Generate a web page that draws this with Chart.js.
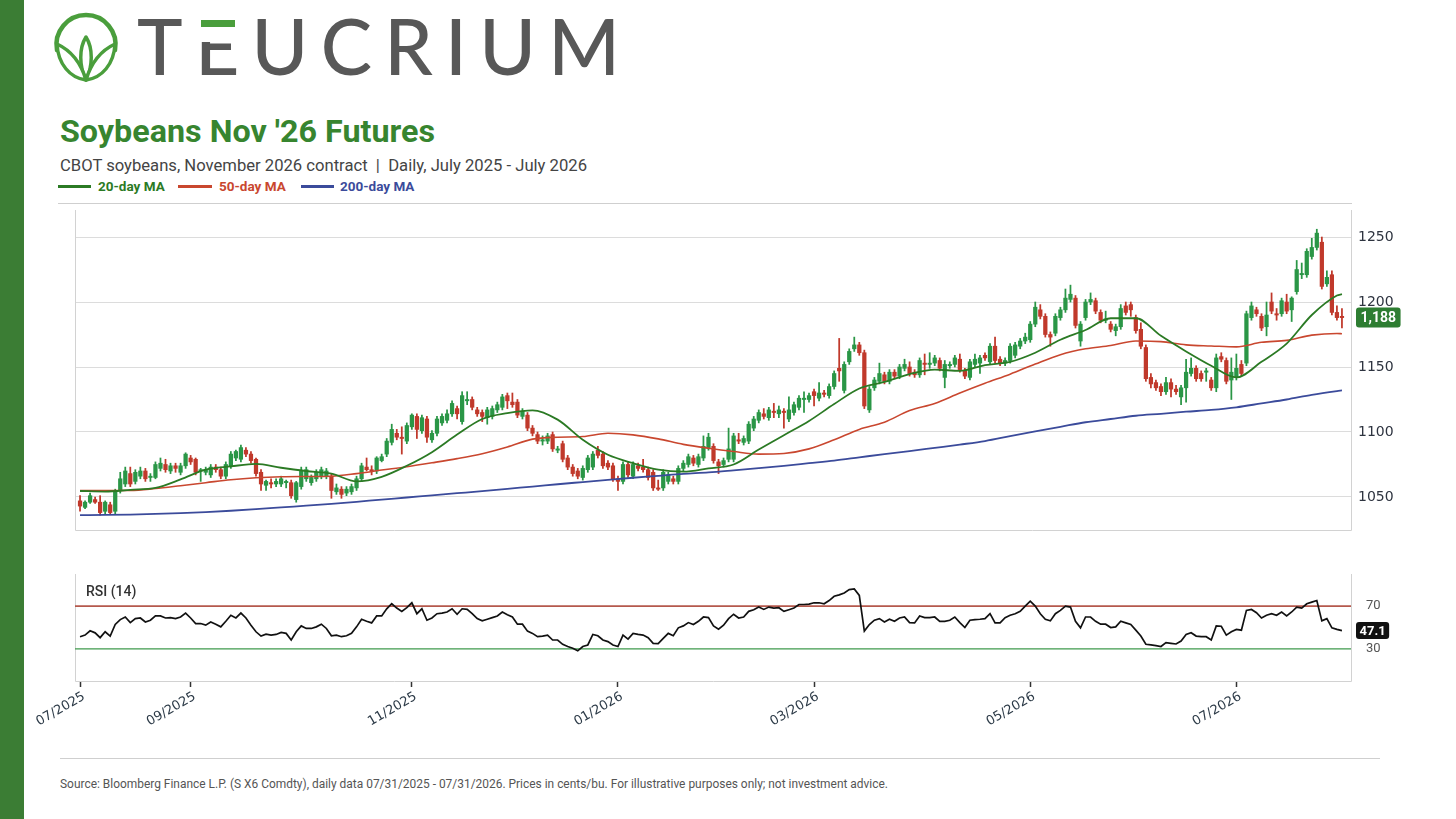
<!DOCTYPE html>
<html>
<head>
<meta charset="utf-8">
<script src="https://cdn.jsdelivr.net/npm/chart.js@4.4.1/dist/chart.umd.min.js"></script>
<style>
html,body{margin:0;padding:0;background:#fff;}
body{width:1456px;height:819px;position:relative;overflow:hidden;font-family:Roboto,"Noto Sans",sans-serif;}
#sidebar{position:absolute;left:0;top:0;width:24px;height:819px;background:#3b7d34;}
.abs{position:absolute;white-space:nowrap;line-height:1;}
#brand{left:137px;top:7px;font-family:Lato,sans-serif;font-size:77px;font-weight:500;color:#585858;}
#eCover{position:absolute;background:#fff;}
#eBar{position:absolute;background:#4a9e3c;}
#title{left:60px;top:116px;font-size:31px;font-weight:700;color:#37852f;transform-origin:0 0;}
#subtitle{left:60px;top:158px;font-size:16px;color:#444;transform-origin:0 0;}
.lgline{position:absolute;height:3px;top:185px;}
.lgtext{position:absolute;top:180px;font-size:13.5px;font-weight:700;line-height:1;white-space:nowrap;}
.hr{position:absolute;height:1px;background:#cfcfcf;}
#rsiLabel{left:86px;top:584px;font-size:14px;font-weight:500;color:#333;}
#source{left:60px;top:778px;font-size:12px;color:#555;transform-origin:0 0;}
canvas{position:absolute;left:0;}
</style>
</head>
<body>
<div id="sidebar"></div>
<svg width="140" height="95" style="position:absolute;left:0;top:0" viewBox="0 0 140 95">
  <path d="M 57 50 A 29.5 29.5 0 1 1 115 50" fill="none" stroke="#4a9e3c" stroke-width="4.5" stroke-linecap="round"/>
  <path d="M 86 37 C 79 48, 79 66, 86 80 C 93 66, 93 48, 86 37 Z" fill="#fff" stroke="#4a9e3c" stroke-width="3.5" stroke-linejoin="round"/>
  <path d="M 86 80 C 70 78, 58 64, 57 44 C 70 50, 80 60, 86 80 Z" fill="#fff" stroke="#4a9e3c" stroke-width="3.5" stroke-linejoin="round"/>
  <path d="M 86 80 C 102 78, 114 64, 115 44 C 102 50, 92 60, 86 80 Z" fill="#fff" stroke="#4a9e3c" stroke-width="3.5" stroke-linejoin="round"/>
</svg>
<div id="brand" class="abs">T<span id="brandE">E</span>UCRIUM</div>
<div id="eCover"></div>
<div id="eBar"></div>

<div id="title" class="abs">Soybeans Nov '26 Futures</div>
<div id="subtitle" class="abs">CBOT soybeans, November 2026 contract &nbsp;|&nbsp; Daily, July 2025 - July 2026</div>

<div class="lgline" style="left:58px;width:33px;background:#2b7a24"></div>
<div class="lgtext" style="left:98px;color:#2b7a24">20-day MA</div>
<div class="lgline" style="left:178px;width:34px;background:#c9472f"></div>
<div class="lgtext" style="left:219px;color:#c9472f">50-day MA</div>
<div class="lgline" style="left:301px;width:33px;background:#3b4b9b"></div>
<div class="lgtext" style="left:340px;color:#3b4b9b">200-day MA</div>

<div class="hr" style="left:58px;width:1294px;top:203px"></div>

<canvas id="priceChart" width="1456" height="340" style="top:200px"></canvas>
<canvas id="rsiChart" width="1456" height="180" style="top:565px"></canvas>
<div id="rsiLabel" class="abs">RSI (14)</div>

<div class="hr" style="left:60px;width:1320px;top:758px"></div>
<div id="source" class="abs">Source: Bloomberg Finance L.P. (S X6 Comdty), daily data 07/31/2025 - 07/31/2026. Prices in cents/bu. For illustrative purposes only; not investment advice.</div>

<script>
// ---------- DATA ----------
const tickIndex  = [0, 22, 66, 107, 146, 189, 230];
const tickLabels = ['07/2025','09/2025','11/2025','01/2026','03/2026','05/2026','07/2026'];
const priceTicks = [1050, 1100, 1150, 1200, 1250];
const rsiLevels  = [70, 30];

const openP = [
1047,1042,1046,1048,1046,1039,1044,1039,1055,1060,
1068,1062,1066,1070,1065,1065,1072,1075,1070,1074,
1069,1074,1080,1079,1070,1069,1067,1073,1071,1066,
1074,1080,1079,1086,1083,1079,1069,1059,1061,1060,
1060,1061,1061,1048,1058,1064,1061,1064,1066,1066,
1066,1054,1056,1053,1054,1057,1064,1073,1071,1070,
1078,1083,1092,1099,1096,1093,1104,1112,1101,1110,
1094,1099,1107,1109,1114,1118,1108,1124,1125,1117,
1115,1111,1112,1117,1119,1128,1123,1123,1112,1113,
1103,1098,1093,1093,1098,1086,1091,1080,1073,1070,
1065,1071,1073,1086,1083,1076,1074,1064,1062,1075,
1066,1074,1073,1071,1069,1057,1057,1062,1064,1062,
1072,1075,1080,1075,1080,1088,1089,1077,1075,1079,
1079,1094,1092,1093,1103,1109,1114,1111,1116,1114,
1116,1110,1115,1119,1125,1125,1131,1126,1130,1128,
1135,1149,1132,1154,1164,1167,1161,1117,1134,1139,
1144,1139,1146,1143,1149,1150,1146,1144,1153,1152,
1153,1155,1142,1151,1152,1156,1147,1142,1152,1153,
1159,1154,1166,1156,1153,1155,1159,1166,1170,1171,
1183,1194,1189,1175,1176,1188,1194,1202,1203,1170,
1188,1200,1201,1192,1186,1183,1178,1181,1197,1198,
1188,1179,1165,1142,1138,1135,1131,1138,1133,1127,
1134,1145,1149,1145,1146,1140,1134,1158,1155,1140,
1142,1152,1153,1188,1194,1189,1181,1200,1191,1191,
1200,1194,1208,1221,1221,1235,1242,1246,1214,1221,
1192,1189];
const highP = [
1051,1047,1053,1050,1051,1047,1046,1056,1069,1073,
1073,1071,1073,1072,1068,1077,1080,1079,1076,1076,
1076,1084,1082,1080,1072,1073,1075,1075,1073,1077,
1085,1086,1090,1088,1085,1080,1071,1063,1064,1064,
1066,1063,1063,1062,1073,1073,1067,1071,1073,1072,
1068,1060,1058,1058,1060,1066,1076,1080,1074,1081,
1083,1095,1106,1102,1104,1107,1114,1114,1113,1112,
1101,1112,1114,1117,1124,1120,1131,1131,1127,1119,
1117,1119,1120,1123,1129,1130,1130,1125,1118,1115,
1105,1100,1097,1099,1100,1089,1093,1082,1075,1072,
1074,1082,1085,1089,1085,1078,1076,1066,1077,1077,
1077,1076,1079,1073,1071,1063,1071,1069,1066,1074,
1078,1083,1082,1083,1097,1099,1091,1079,1080,1103,
1099,1099,1097,1108,1112,1117,1118,1119,1122,1120,
1118,1127,1123,1128,1131,1130,1133,1138,1132,1137,
1147,1172,1154,1164,1173,1169,1163,1135,1142,1153,
1146,1148,1148,1152,1156,1154,1148,1157,1160,1161,
1159,1157,1155,1154,1159,1160,1149,1156,1160,1159,
1161,1168,1173,1158,1157,1168,1169,1172,1176,1185,
1200,1198,1191,1177,1191,1196,1210,1213,1205,1185,
1202,1207,1203,1194,1193,1185,1183,1198,1200,1200,
1190,1184,1167,1145,1140,1137,1142,1141,1136,1136,
1156,1157,1151,1147,1149,1142,1160,1161,1157,1157,
1160,1155,1193,1200,1196,1191,1200,1207,1195,1203,
1206,1204,1232,1230,1241,1249,1256,1250,1224,1224,
1197,1195];
const lowP = [
1039,1041,1045,1045,1036,1037,1037,1037,1053,1058,
1058,1060,1064,1062,1062,1064,1070,1069,1068,1069,
1067,1072,1075,1067,1062,1067,1065,1069,1064,1064,
1072,1078,1077,1081,1076,1066,1055,1055,1057,1058,
1058,1057,1049,1046,1056,1062,1059,1062,1064,1064,
1049,1052,1049,1051,1052,1055,1062,1070,1067,1068,
1077,1081,1090,1094,1083,1091,1102,1095,1099,1092,
1092,1097,1105,1107,1112,1110,1106,1121,1117,1112,
1108,1106,1110,1115,1117,1118,1119,1111,1110,1101,
1097,1091,1090,1091,1085,1084,1077,1071,1066,1064,
1063,1069,1071,1080,1072,1071,1062,1055,1060,1065,
1064,1070,1069,1063,1055,1055,1055,1060,1060,1060,
1070,1073,1074,1073,1078,1086,1076,1068,1073,1077,
1077,1091,1090,1091,1101,1107,1110,1109,1111,1111,
1103,1108,1113,1117,1115,1123,1120,1124,1127,1126,
1133,1139,1130,1152,1162,1159,1118,1115,1132,1137,
1137,1137,1141,1141,1147,1143,1142,1142,1144,1149,
1151,1147,1134,1149,1150,1146,1141,1140,1150,1145,
1155,1152,1153,1151,1151,1153,1157,1164,1168,1169,
1181,1187,1173,1166,1174,1186,1192,1200,1180,1166,
1186,1198,1191,1184,1184,1177,1174,1179,1190,1189,
1176,1164,1139,1134,1132,1128,1129,1127,1129,1121,
1123,1143,1139,1139,1139,1132,1131,1154,1137,1125,
1140,1143,1151,1186,1189,1178,1174,1191,1186,1189,
1191,1185,1206,1218,1219,1233,1240,1210,1212,1190,
1186,1180];
const closeP = [
1043,1046,1051,1046,1038,1046,1038,1055,1064,1070,
1060,1069,1070,1064,1066,1075,1076,1071,1074,1072,
1074,1083,1077,1069,1071,1071,1073,1071,1066,1075,
1083,1085,1088,1083,1078,1068,1060,1062,1060,1062,
1064,1062,1051,1061,1070,1071,1065,1069,1071,1070,
1055,1057,1052,1056,1058,1064,1074,1071,1070,1080,
1081,1093,1102,1096,1095,1105,1113,1102,1111,1096,
1099,1110,1112,1114,1122,1114,1128,1125,1119,1114,
1112,1117,1118,1121,1127,1124,1121,1113,1116,1103,
1099,1093,1094,1097,1087,1087,1079,1073,1068,1066,
1072,1080,1083,1082,1074,1073,1064,1062,1075,1067,
1075,1072,1071,1065,1057,1056,1069,1067,1062,1072,
1076,1081,1076,1081,1089,1096,1078,1074,1078,1087,
1097,1093,1095,1106,1110,1115,1112,1117,1115,1117,
1115,1117,1121,1126,1126,1128,1128,1130,1129,1135,
1145,1147,1152,1162,1167,1161,1120,1133,1140,1145,
1139,1146,1143,1150,1152,1145,1144,1155,1152,1153,
1157,1149,1152,1152,1157,1148,1143,1154,1156,1157,
1157,1166,1155,1153,1155,1166,1167,1170,1173,1183,
1196,1189,1175,1173,1189,1194,1203,1206,1182,1183,
1200,1202,1193,1186,1187,1179,1181,1195,1192,1194,
1178,1166,1141,1137,1134,1131,1138,1133,1131,1134,
1146,1149,1141,1141,1147,1134,1157,1156,1139,1146,
1149,1145,1191,1197,1191,1180,1190,1193,1190,1201,
1193,1203,1225,1222,1239,1242,1253,1212,1219,1192,
1188,1188];

const maIndex = [0,5,10,15,20,25,30,35,40,45,50,55,60,65,70,75,80,85,90,95,
  100,105,110,115,120,125,130,135,140,145,150,155,160,165,170,175,180,185,190,195,
  200,205,210,215,220,225,230,235,240,245,250,251];
const ma20 = [1054.6,1054.2,1055.5,1057,1063.5,1071,1073.5,1075.5,1072.5,1070,
  1068,1062,1065.5,1074,1084.5,1098,1110,1114.5,1116.7,1109.5,
  1094,1082.5,1076,1071,1069.5,1072,1075,1086.5,1097.5,1108.5,
  1121.5,1133.5,1138.5,1144.5,1148,1147,1151.5,1154,1161,1171,
  1178.5,1187.5,1187.5,1174,1162,1151,1142,1154,1168,1190,1205,1206];
const ma50 = [1055,1055,1055,1056.5,1058.7,1061,1063.3,1064.8,1065.6,1065.8,
  1066,1068,1070.7,1073.3,1076.3,1079.5,1083.3,1088.5,1094.5,1096,
  1096.5,1099,1097.8,1094.7,1090.5,1087.5,1085,1083,1083.5,1087,
  1094,1102,1107.5,1116.5,1122,1130,1137.5,1144.5,1152.3,1159.5,
  1164,1166.5,1170,1169.5,1167,1166.2,1165.5,1169,1170.5,1174.5,1175.8,1175.6];
const ma200 = [1036,1036.2,1036.5,1037,1037.6,1038.4,1039.4,1040.6,1042,1043.3,
  1044.7,1046.3,1048,1049.6,1051.3,1052.9,1054.5,1056.3,1058,1059.8,
  1061.5,1063.2,1064.8,1066.3,1067.8,1068.9,1070.5,1072.2,1074,1076,
  1078,1080.5,1083,1085.3,1087.8,1090.3,1093,1096.8,1100.5,1104,
  1107.5,1110,1112.5,1114,1115.6,1117,1119,1122,1125,1128.6,1131.5,1132];

const rsi14 = [
41.4,42.9,46.9,45.0,40.5,46.0,42.0,52.8,57.4,59.8,
54.6,58.3,58.9,55.2,56.8,60.8,60.8,58.9,59.2,58.3,
59.8,63.5,58.9,53.7,53.7,52.2,55.2,53.1,50.6,55.8,
61.4,58.9,63.5,58.9,52.2,46.0,42.0,43.8,42.9,43.5,
45.4,44.5,38.3,46.0,51.5,49.1,49.1,50.6,53.1,49.1,
42.3,42.9,41.4,42.3,44.5,50.6,57.7,55.8,54.3,60.8,
60.8,67.5,72.2,68.2,65.1,68.5,73.1,62.9,67.5,56.8,
58.9,62.9,63.5,64.5,67.5,62.3,67.5,66.9,62.9,58.3,
56.2,57.7,59.2,60.8,64.5,62.0,59.8,53.1,53.1,46.6,
44.5,41.4,42.0,42.9,38.3,38.3,34.3,32.2,30.6,28.2,
32.2,33.7,43.5,42.3,38.3,36.8,33.7,32.2,42.9,39.2,
44.5,43.5,42.9,40.5,35.2,34.9,39.8,44.5,42.3,49.7,
51.5,54.6,52.8,55.8,59.8,59.2,51.5,48.5,52.2,58.3,
62.4,58.9,59.8,65.1,66.6,69.1,66.9,69.1,68.2,68.5,
65.1,66.6,68.2,71.5,71.5,71.8,73.1,73.1,72.2,75.2,
79.2,80.5,82.3,85.4,86.0,80.0,46.6,52.8,56.8,58.3,
55.2,57.7,55.8,58.9,59.8,54.6,54.3,60.8,59.2,59.2,
59.8,55.8,55.8,56.8,59.8,54.6,50.0,56.8,57.4,57.7,
58.3,62.9,54.3,54.3,59.2,61.4,62.9,65.1,70.0,74.6,
70.0,62.9,57.7,56.2,62.9,66.0,70.0,69.1,55.8,49.7,
59.8,59.8,55.8,53.1,53.1,50.0,50.6,55.8,54.3,52.8,
47.5,42.0,34.3,33.7,33.1,32.2,35.8,35.2,34.6,37.4,
43.5,45.1,42.0,41.4,41.4,38.3,51.5,51.2,42.9,46.0,
48.2,47.5,66.0,66.9,63.8,58.9,61.4,62.9,61.4,64.5,
60.8,64.5,69.1,68.2,72.2,73.7,75.2,56.2,58.3,49.7,
48.2,47.1];

// ---------- STYLE ----------
const UP = '#2a9646', DOWN = '#c0392b';
const X_MIN = -1, X_MAX = 252.8;

// ---------- HEADER LAYOUT ----------
function fitWidth(el, target){
  const w = el.getBoundingClientRect().width;
  if (w > 0) el.style.transform = 'scaleX(' + (target / w) + ')';
}
function layoutHeader(){
  const brand = document.getElementById('brand');
  brand.style.letterSpacing = '0px';
  const w0 = brand.getBoundingClientRect().width;
  const ls = (483 - w0) / 7;
  brand.style.letterSpacing = ls + 'px';
  const e = document.getElementById('brandE').getBoundingClientRect();
  const fs = 77;
  const adv = e.width - ls;
  const cover = document.getElementById('eCover');
  cover.style.left = (e.left - 1) + 'px';
  cover.style.width = (adv + 2) + 'px';
  cover.style.top = '15px';
  cover.style.height = '27px';
  const bar = document.getElementById('eBar');
  bar.style.left = (e.left + 0.085 * fs) + 'px';
  bar.style.width = (adv - 0.14 * fs) + 'px';
  bar.style.top = '20px';
  bar.style.height = '7px';
  fitWidth(document.getElementById('title'), 375);
  fitWidth(document.getElementById('subtitle'), 527);
  fitWidth(document.getElementById('source'), 828);
}

// ---------- PLUGINS ----------
const framePlugin = {
  id: 'frame',
  beforeDatasetsDraw(chart){
    const {ctx, chartArea: a} = chart;
    ctx.save();
    ctx.strokeStyle = '#d2d2d2';
    ctx.lineWidth = 1;
    ctx.beginPath();
    ctx.moveTo(Math.round(a.left) + 0.5, a.top);
    ctx.lineTo(Math.round(a.left) + 0.5, Math.round(a.bottom) + 0.5);
    ctx.lineTo(Math.round(a.right) + 0.5, Math.round(a.bottom) + 0.5);
    ctx.lineTo(Math.round(a.right) + 0.5, a.top);
    ctx.stroke();
    ctx.restore();
  }
};
const badgePlugin = {
  id: 'badge',
  afterDraw(chart, args, o){
    if (!o || o.value == null) return;
    const ctx = chart.ctx;
    const y = chart.scales.y.getPixelForValue(o.value);
    ctx.save();
    ctx.font = o.font;
    const w = ctx.measureText(o.text).width + 2 * o.padX;
    const h = o.height;
    const x = chart.chartArea.right + o.offset;
    const r = 3;
    ctx.fillStyle = o.bg;
    ctx.beginPath();
    ctx.moveTo(x + r, y - h/2);
    ctx.lineTo(x + w - r, y - h/2);
    ctx.quadraticCurveTo(x + w, y - h/2, x + w, y - h/2 + r);
    ctx.lineTo(x + w, y + h/2 - r);
    ctx.quadraticCurveTo(x + w, y + h/2, x + w - r, y + h/2);
    ctx.lineTo(x + r, y + h/2);
    ctx.quadraticCurveTo(x, y + h/2, x, y + h/2 - r);
    ctx.lineTo(x, y - h/2 + r);
    ctx.quadraticCurveTo(x, y - h/2, x + r, y - h/2);
    ctx.fill();
    ctx.fillStyle = '#fff';
    ctx.textAlign = 'center';
    ctx.textBaseline = 'middle';
    ctx.fillText(o.text, x + w/2, y + 1);
    ctx.restore();
  }
};

// ---------- CHARTS ----------
function fixVertical(width){
  return s => { s.width = width; s.paddingTop = 0; s.paddingBottom = 0; };
}
function buildCharts(){
  const idx = closeP.map((_, i) => i);
  const lastClose = closeP[closeP.length - 1];
  const lastRsi = rsi14[rsi14.length - 1];
  const candleColor = ctx => {
    const i = ctx.dataIndex;
    return closeP[i] >= openP[i] ? UP : DOWN;
  };
  const maLine = (vals, color, width) => ({
    type: 'line',
    data: maIndex.map((x, k) => ({x: x, y: vals[k]})),
    borderColor: color, borderWidth: width, pointRadius: 0,
    cubicInterpolationMode: 'monotone', fill: false, order: 0
  });

  new Chart(document.getElementById('priceChart'), {
    type: 'bar',
    data: {
      datasets: [
        maLine(ma20, '#2b7a24', 1.8),
        maLine(ma50, '#c9472f', 1.6),
        maLine(ma200, '#3b4b9b', 1.8),
        {
          type: 'bar', order: 1,
          data: idx.map(i => ({x: i, y: [openP[i], closeP[i]]})),
          backgroundColor: candleColor, borderWidth: 0,
          barThickness: 3.6, grouped: false, minBarLength: 1
        },
        {
          type: 'bar', order: 2,
          data: idx.map(i => ({x: i, y: [lowP[i], highP[i]]})),
          backgroundColor: candleColor, borderWidth: 0,
          barThickness: 1.1, grouped: false
        }
      ]
    },
    options: {
      responsive: false, animation: false, events: [],
      layout: {padding: {left: 75, right: 45, top: 10, bottom: 10}},
      plugins: {
        legend: {display: false}, tooltip: {enabled: false},
        badge: {value: lastClose, text: lastClose.toLocaleString('en-US'), font: 'bold 14px Roboto',
                padX: 4.5, height: 20, offset: 5, bg: '#2e7d32'}
      },
      scales: {
        x: {type: 'linear', display: false, min: X_MIN, max: X_MAX, offset: false, bounds: 'data'},
        y: {
          position: 'right', min: 1024.6, max: 1270.8,
          afterBuildTicks: s => { s.ticks = priceTicks.map(v => ({value: v})); },
          afterFit: fixVertical(60),
          grid: {color: '#dcdcdc', lineWidth: 1, drawTicks: false},
          border: {display: false},
          ticks: {padding: 7, color: '#2e3440', font: {family: 'DejaVu Sans', size: 14}, callback: v => String(v)}
        }
      }
    },
    plugins: [framePlugin, badgePlugin]
  });

  new Chart(document.getElementById('rsiChart'), {
    type: 'line',
    data: {
      datasets: [
        {
          data: idx.map(i => ({x: i, y: rsi14[i]})),
          borderColor: '#111', borderWidth: 1.7, pointRadius: 0, tension: 0, order: 0
        },
        {
          data: [{x: X_MIN, y: rsiLevels[0]}, {x: X_MAX, y: rsiLevels[0]}],
          borderColor: '#b5584c', borderWidth: 1.6, pointRadius: 0, order: 1
        },
        {
          data: [{x: X_MIN, y: rsiLevels[1]}, {x: X_MAX, y: rsiLevels[1]}],
          borderColor: '#3f9a4c', borderWidth: 1.4, pointRadius: 0, order: 1
        }
      ]
    },
    options: {
      responsive: false, animation: false, events: [],
      layout: {padding: {left: 75, right: 45, top: 9, bottom: 20}},
      plugins: {
        legend: {display: false}, tooltip: {enabled: false},
        badge: {value: lastRsi, text: lastRsi.toFixed(1), font: 'bold 13px Roboto',
                padX: 3.5, height: 17, offset: 5, bg: '#111'}
      },
      scales: {
        x: {
          type: 'linear', min: X_MIN, max: X_MAX, offset: false, bounds: 'data',
          afterBuildTicks: s => { s.ticks = tickIndex.map(v => ({value: v})); },
          afterFit: s => { s.height = 44; s.paddingLeft = 0; s.paddingRight = 0; },
          grid: {drawOnChartArea: false, drawTicks: true, tickLength: 6, tickColor: '#333', tickWidth: 1.5},
          border: {display: false},
          ticks: {
            autoSkip: false, minRotation: 30, maxRotation: 30, padding: 2, labelOffset: 4,
            color: '#2d3b48', font: {family: 'DejaVu Sans', size: 13},
            callback: (v, i) => tickLabels[i]
          }
        },
        y: {
          position: 'right', min: 0, max: 100,
          afterBuildTicks: s => { s.ticks = rsiLevels.map(v => ({value: v})); },
          afterFit: fixVertical(60),
          grid: {display: false},
          border: {display: false},
          ticks: {padding: 7, color: '#555', font: {family: 'Roboto', size: 13}}
        }
      }
    },
    plugins: [framePlugin, badgePlugin]
  });
}

layoutHeader();
buildCharts();
</script>
</body>
</html>
